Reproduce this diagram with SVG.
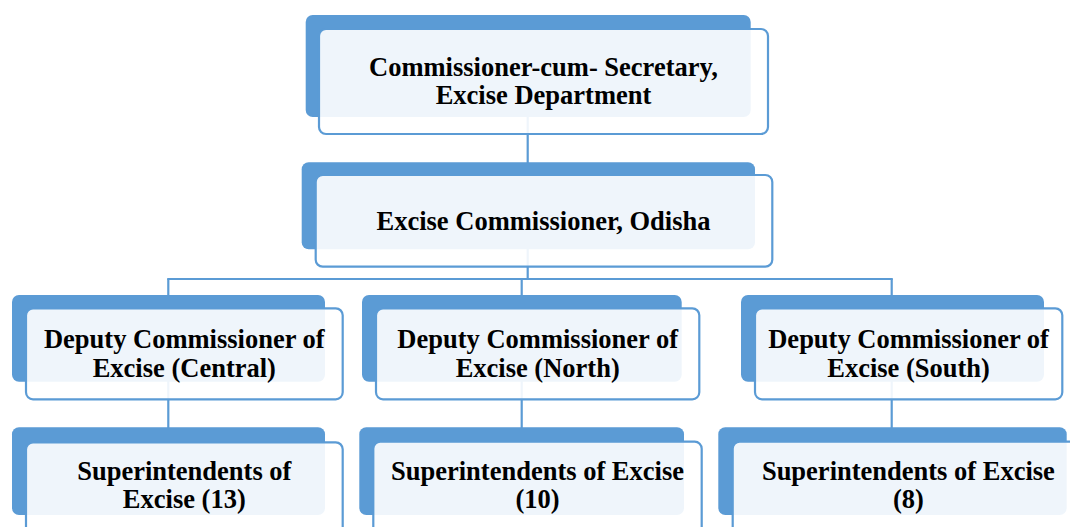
<svg xmlns="http://www.w3.org/2000/svg" width="1070" height="527" viewBox="0 0 1070 527">
<style>
.back{fill:#5B9BD5;}
.front{fill:#FFFFFF;fill-opacity:0.9;stroke:#5B9BD5;stroke-width:2.2;}
.conn{stroke:#5B9BD5;stroke-width:2.2;fill:none;}
.t{font-family:'Liberation Serif','Times New Roman',serif;font-weight:700;font-size:26.5px;fill:#000000;text-anchor:middle;}
</style>
<rect width="1070" height="527" fill="#FFFFFF"/>
<g id="connectors">
<line class="conn" x1="527.7" y1="117" x2="527.7" y2="175"/>
<line class="conn" x1="527.7" y1="249" x2="527.7" y2="279"/>
<line class="conn" x1="167.2" y1="279" x2="892.8" y2="279"/>
<line class="conn" x1="168.3" y1="279" x2="168.3" y2="296"/>
<line class="conn" x1="521.7" y1="279" x2="521.7" y2="296"/>
<line class="conn" x1="891.7" y1="279" x2="891.7" y2="296"/>
<line class="conn" x1="168.3" y1="381" x2="168.3" y2="428"/>
<line class="conn" x1="521.7" y1="381" x2="521.7" y2="428"/>
<line class="conn" x1="891.7" y1="381" x2="891.7" y2="428"/>
</g>
<g id="n-secretary">
<rect class="back" x="305.7" y="15" width="445" height="102" rx="7"/>
<rect class="front" x="319" y="29" width="449" height="105" rx="7"/>
<text class="t" x="543.5" y="76">Commissioner-cum- Secretary,</text>
<text class="t" x="543.5" y="103.5">Excise Department</text>
</g>
<g id="n-commissioner">
<rect class="back" x="301.7" y="162.3" width="453.3" height="87" rx="7"/>
<rect class="front" x="315.7" y="175" width="456.6" height="91.7" rx="7"/>
<text class="t" x="543.5" y="230">Excise Commissioner, Odisha</text>
</g>
<g id="n-dc-central">
<rect class="back" x="12" y="295" width="313" height="86.7" rx="7"/>
<rect class="front" x="26" y="308.3" width="316.7" height="91" rx="7"/>
<text class="t" x="184.3" y="348.3">Deputy Commissioner of</text>
<text class="t" x="184.3" y="376.7">Excise (Central)</text>
</g>
<g id="n-dc-north">
<rect class="back" x="362" y="295" width="319.7" height="86.7" rx="7"/>
<rect class="front" x="376" y="308.3" width="323.3" height="91" rx="7"/>
<text class="t" x="537.7" y="348.3">Deputy Commissioner of</text>
<text class="t" x="537.7" y="376.7">Excise (North)</text>
</g>
<g id="n-dc-south">
<rect class="back" x="741" y="295" width="303" height="86.7" rx="7"/>
<rect class="front" x="755" y="308.3" width="307.3" height="91" rx="7"/>
<text class="t" x="908.6" y="348.3">Deputy Commissioner of</text>
<text class="t" x="908.6" y="376.7">Excise (South)</text>
</g>
<g id="n-sup-central">
<rect class="back" x="12" y="427.3" width="313" height="87.7" rx="7"/>
<rect class="front" x="26" y="442.3" width="316.7" height="95" rx="7"/>
<text class="t" x="184.3" y="480">Superintendents of</text>
<text class="t" x="184.3" y="508.3">Excise (13)</text>
</g>
<g id="n-sup-north">
<rect class="back" x="359.3" y="427.3" width="324.7" height="87.7" rx="7"/>
<rect class="front" x="373.3" y="441.7" width="328.4" height="95" rx="7"/>
<text class="t" x="537.5" y="480">Superintendents of Excise</text>
<text class="t" x="537.5" y="508.3">(10)</text>
</g>
<g id="n-sup-south">
<rect class="back" x="718.3" y="427.3" width="348.4" height="87.7" rx="7"/>
<rect class="front" x="732.7" y="441.7" width="350" height="95" rx="7"/>
<text class="t" x="908.4" y="480">Superintendents of Excise</text>
<text class="t" x="908.4" y="508.3">(8)</text>
</g>
</svg>
